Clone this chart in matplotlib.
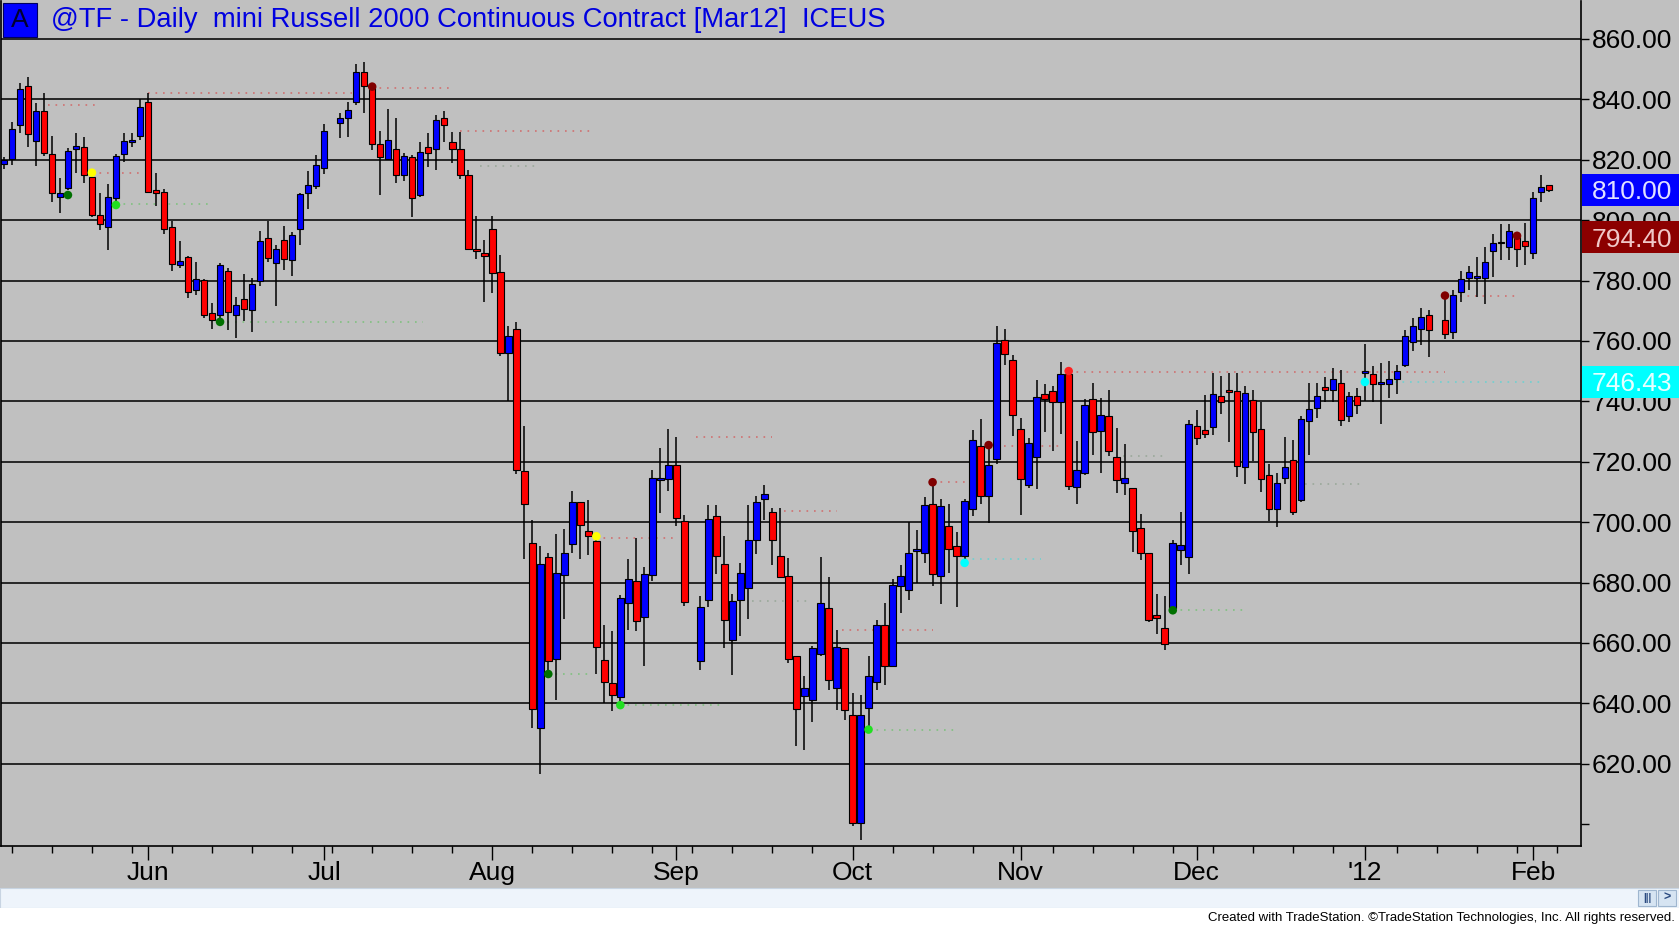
# plot.py : @TF daily candlestick chart (TradeStation look)

import matplotlib.pyplot as plt
import matplotlib.transforms as mtransforms
from matplotlib.patches import Rectangle
import numpy as np

plt.rcParams['font.family'] = ['Liberation Sans', 'DejaVu Sans']

nan = np.nan

# Daily OHLC, one entry per bar slot (nan = empty holiday slot)
opens = [
    818.5, 820.1, 831.5, 844.4, 826.2, 836.1, 821.9, 807.5, 810.5, 823.4,
    824.1, 814.2, 801.7, 797.6, 807.2, 821.8, 826.0, 827.9, 839.2, 810.0,
    809.2, 797.8, 785.1, 787.7, 776.9, 780.2, 769.4, 768.6, 783.2, 768.6,
    774.0, 770.2, 780.0, 794.0, 785.7, 793.4, 786.8, 797.0, 808.9, 811.3,
    817.2, nan, 832.1, 833.7, 839.0, 849.2, 844.2, 825.1, 820.1, 823.4,
    814.8, 820.8, 808.3, 824.3, 823.4, 833.7, 826.0, 823.4, 814.8, 790.3,
    789.1, 797.1, 782.9, 756.1, 763.9, 716.8, 693.2, 631.9, 688.4, 654.7,
    682.5, 692.8, 706.5, 696.9, 693.7, 654.3, 646.8, 642.2, 673.3, 680.4,
    668.6, 682.5, 713.9, 714.3, 718.9, 700.2, nan, 653.9, 674.2, 702.1,
    686.2, 661.1, 674.3, 678.2, 694.0, 707.7, 703.2, 688.7, 682.3, 655.6,
    642.3, 641.0, 656.4, 671.6, 645.1, 658.3, 636.2, 600.4, 638.5, 647.0,
    666.0, 652.5, 679.0, 677.6, 690.5, 689.8, 706.1, 682.0, 698.6, 692.0,
    688.7, 704.3, 725.1, 708.6, 720.8, 760.2, 753.6, 730.9, 712.2, 721.6,
    742.3, 743.3, 739.8, 749.2, 711.7, 716.3, 740.9, 730.2, 735.1, 721.6,
    713.0, 711.4, 698.2, 689.8, 669.2, 665.1, 671.4, 690.9, 688.3, 731.7,
    730.4, 731.6, 741.6, 743.5, 743.5, 718.4, 740.5, 730.9, 715.6, 704.3,
    714.5, 720.4, 707.4, 733.6, 737.7, 744.6, 743.8, 746.0, 735.2, 741.6,
    749.5, 749.0, 745.8, 745.8, 747.4, 752.1, 759.5, 764.1, 768.6, nan,
    766.8, 762.8, 776.1, 780.8, 780.8, 780.8, 789.9, 792.4, 791.1, 794.4,
    793.0, 789.1, 809.4, 811.7]

highs = [
    821.0, 832.6, 845.3, 847.5, 838.7, 842.0, 827.9, 813.8, 823.8, 829.0,
    827.4, 816.0, 808.9, 812.0, 821.9, 828.7, 828.7, 840.0, 842.0, 815.5,
    810.2, 799.8, 793.2, 788.1, 786.1, 780.4, 772.5, 785.7, 784.0, 774.7,
    782.2, 780.7, 796.5, 799.8, 791.8, 798.1, 796.2, 809.1, 816.4, 821.6,
    831.8, nan, 835.4, 839.2, 851.7, 852.5, 844.7, 829.6, 836.7, 833.7,
    822.3, 821.6, 825.7, 828.7, 834.8, 836.2, 829.3, 829.3, 816.6, 801.5,
    793.4, 801.5, 788.4, 764.8, 766.1, 731.9, 700.6, 692.0, 689.7, 695.9,
    697.8, 710.2, 706.5, 707.3, 695.3, 665.8, 663.8, 676.0, 687.8, 694.7,
    685.0, 717.3, 724.5, 730.7, 728.2, 702.4, nan, 675.4, 705.6, 705.6,
    695.3, 676.3, 686.5, 705.8, 708.5, 712.4, 704.7, 704.7, 688.1, 655.8,
    649.2, 658.9, 688.5, 681.8, 664.4, 658.3, 643.4, 642.8, 655.6, 667.7,
    673.2, 681.0, 685.9, 699.9, 697.3, 708.3, 712.4, 707.7, 706.1, 696.6,
    707.8, 730.6, 734.3, 724.3, 764.9, 764.1, 755.3, 734.6, 728.0, 747.0,
    745.7, 745.0, 753.0, 750.5, 726.9, 740.6, 745.9, 741.2, 743.9, 731.0,
    726.0, 711.4, 702.6, 689.8, 676.1, 675.5, 694.0, 703.4, 733.7, 737.0,
    742.0, 749.3, 748.4, 749.3, 749.3, 745.1, 743.6, 739.9, 719.3, 716.2,
    728.1, 727.2, 735.0, 746.0, 746.0, 748.0, 751.0, 750.2, 743.2, 744.3,
    759.0, 751.7, 752.8, 753.2, 752.1, 763.7, 767.5, 770.8, 770.3, nan,
    774.9, 776.7, 783.0, 784.7, 787.8, 791.1, 795.5, 798.8, 798.8, 795.5,
    799.2, 809.2, 815.0, 811.7]

lows = [
    817.0, 818.3, 828.7, 824.3, 817.9, 821.2, 806.1, 802.5, 810.0, 815.5,
    812.2, 801.1, 796.7, 790.1, 806.1, 819.4, 824.3, 826.5, 809.4, 804.7,
    795.4, 783.3, 784.0, 774.1, 775.2, 767.5, 764.0, 767.0, 763.5, 760.9,
    766.7, 763.1, 778.2, 786.2, 771.6, 783.5, 781.5, 791.8, 803.6, 810.2,
    815.3, nan, 827.1, 827.6, 838.1, 835.4, 823.2, 808.3, 819.9, 812.2,
    813.1, 801.1, 807.8, 817.7, 816.6, 825.7, 819.0, 813.5, 790.1, 787.2,
    772.9, 776.0, 754.9, 740.0, 715.8, 687.8, 631.9, 616.6, 649.3, 641.2,
    667.9, 689.7, 687.8, 689.0, 649.7, 640.2, 637.3, 640.0, 664.2, 663.9,
    652.2, 680.4, 703.1, 710.2, 698.6, 672.3, nan, 650.9, 672.0, 682.9,
    658.3, 649.5, 662.2, 667.9, 689.6, 700.8, 685.9, 681.5, 653.4, 625.8,
    624.5, 633.7, 655.7, 644.5, 637.8, 634.6, 599.3, 594.9, 632.5, 644.5,
    646.2, 652.3, 669.9, 674.2, 680.0, 686.5, 678.8, 673.0, 683.2, 671.9,
    686.5, 702.0, 706.1, 699.8, 719.2, 751.9, 728.4, 702.3, 711.4, 711.1,
    729.9, 723.6, 729.3, 710.6, 706.1, 715.5, 722.1, 716.1, 721.8, 709.7,
    709.1, 690.1, 687.6, 667.0, 662.9, 657.6, 670.8, 685.7, 682.7, 725.5,
    727.7, 729.0, 735.8, 726.4, 715.1, 712.7, 720.1, 710.1, 700.5, 698.3,
    712.7, 702.4, 706.8, 722.3, 734.4, 739.9, 739.9, 731.7, 733.0, 735.8,
    740.0, 739.9, 732.5, 741.0, 742.5, 751.5, 756.5, 758.7, 754.8, nan,
    760.6, 760.6, 772.8, 776.7, 774.7, 772.3, 781.1, 786.9, 786.7, 784.5,
    785.2, 787.1, 805.9, 809.2]

closes = [
    819.8, 830.1, 843.3, 828.5, 836.1, 822.1, 808.9, 808.9, 822.9, 824.5,
    814.8, 801.8, 798.7, 807.8, 821.2, 826.2, 826.4, 837.4, 809.4, 809.1,
    797.0, 785.5, 786.4, 776.2, 780.4, 768.6, 767.0, 785.1, 769.7, 771.9,
    770.7, 778.9, 793.1, 787.4, 790.3, 787.0, 795.1, 808.7, 811.6, 818.3,
    829.5, nan, 833.7, 836.5, 849.2, 844.4, 825.1, 820.8, 826.5, 814.8,
    821.2, 807.2, 822.7, 822.1, 833.2, 831.4, 823.4, 814.8, 790.3, 789.7,
    788.1, 782.6, 756.1, 761.5, 717.3, 706.1, 638.1, 686.0, 653.9, 683.2,
    689.7, 706.5, 699.0, 695.3, 658.6, 647.2, 642.7, 674.8, 681.2, 667.3,
    682.9, 714.5, 714.5, 718.9, 701.5, 673.5, nan, 672.0, 701.1, 688.7,
    667.7, 673.8, 683.2, 694.0, 706.6, 709.4, 694.0, 681.8, 654.7, 638.1,
    645.1, 658.3, 673.2, 647.8, 658.7, 637.9, 600.4, 636.2, 649.0, 666.0,
    652.3, 679.3, 682.3, 689.8, 690.7, 705.8, 682.9, 705.2, 691.1, 688.9,
    707.0, 727.1, 708.6, 718.8, 759.3, 755.6, 735.4, 714.3, 726.2, 741.5,
    740.8, 739.8, 749.2, 711.9, 717.4, 738.7, 729.9, 735.4, 723.6, 714.1,
    714.6, 697.1, 689.8, 667.7, 668.1, 659.8, 693.1, 692.3, 732.6, 728.0,
    729.1, 742.5, 739.9, 743.2, 718.6, 742.7, 729.7, 714.3, 704.3, 713.1,
    718.2, 703.5, 734.1, 737.4, 741.8, 743.6, 747.3, 733.9, 741.6, 738.8,
    749.6, 745.8, 745.9, 747.4, 750.1, 761.7, 765.0, 767.9, 763.7, nan,
    762.3, 775.3, 780.5, 782.8, 780.9, 786.1, 792.4, 792.3, 796.3, 790.4,
    791.3, 807.3, 810.9, 810.0]

# Month labels and the bar slot where each month starts
month_labels = ['Jun', 'Jul', 'Aug', 'Sep', 'Oct', 'Nov', 'Dec', "'12", 'Feb']
month_pos = [18, 40, 61, 84, 106, 127, 149, 170, 191]
week_pos = list(range(1, 167, 5)) + [170] + list(range(174, 197, 5))

# Indicator markers: (bar slot, price, colour)
dot_bars = [8, 11, 14, 27, 46, 68, 74, 77, 108, 116, 120, 123, 133, 146, 170, 180, 189]
dot_prices = [808.3, 815.7, 805.0, 766.3, 844.2, 649.7, 695.3, 639.4, 631.3,
              713.2, 686.5, 725.5, 750.0, 670.8, 746.4, 775.0, 794.8]
dot_colors = ['#007000', '#ffff00', '#20e020', '#007000', '#800000', '#007000',
              '#ffff00', '#20e020', '#20e020', '#800000', '#00ffff', '#800000',
              '#ff2020', '#007000', '#00ffff', '#800000', '#800000']

# Dotted level lines: start slot, end slot, price, kind
lvl_start = [5.5, 11, 18, 46, 57, 74, 86.5, 97.5, 104.7, 116, 123, 133, 180,
             14, 27, 59.5, 68, 77, 93.5, 108, 120, 139.8, 146, 162.5, 170]
lvl_end = [11.5, 17, 43.5, 56, 73.8, 84, 96, 104, 116, 120.5, 132, 180, 189,
           26, 52.4, 67, 73.6, 89.5, 101, 119, 129.5, 145.3, 155.4, 170, 192]
lvl_price = [838.0, 815.5, 842.0, 843.8, 829.5, 694.7, 728.3, 703.6, 664.4,
             713.2, 725.3, 749.8, 775.0,
             805.3, 766.3, 818.0, 649.7, 639.6, 673.8, 631.3, 687.9, 722.0,
             671.0, 712.7, 746.4]
lvl_kind = ['r'] * 13 + ['g', 'g', 'k', 'g', 'g', 'k', 'g', 'c', 'k', 'g', 'k', 'c']
lvl_colors = {'r': '#d07070', 'g': '#80c080', 'k': '#9aa89a', 'c': '#70d0d0'}

# Price boxes on the right axis
box_values = [810.00, 794.40, 746.43]
box_faces = ['#0000ff', '#8c0000', '#00ffff']
box_texts = ['#e0e0ff', '#f0c8c8', '#e6ffff']

W, H = 1679, 927
fig = plt.figure(figsize=(W / 100, H / 100), dpi=100)
fig.patch.set_facecolor('#c0c0c0')
ax = fig.add_axes([1 / W, 81 / H, 1580 / W, 845 / H])
ax.set_facecolor('#c0c0c0')

o = np.array(opens)
hi = np.array(highs)
lo = np.array(lows)
c = np.array(closes)
x = np.arange(len(o))
ok = ~np.isnan(o)
up = c >= o

# grid lines
ax.hlines(np.arange(620, 861, 20), -5, 200, colors='#1a1a1a', linewidth=1.3, zorder=1)

# level lines
for x0, x1, p, k in zip(lvl_start, lvl_end, lvl_price, lvl_kind):
    ax.hlines(p, x0, x1, colors=lvl_colors[k], linewidth=1.2,
              linestyles=(0, (1, 3.5)), zorder=1.5)

# wicks then bodies
ax.vlines(x[ok], lo[ok], hi[ok], colors='black', linewidth=1.1, zorder=2)
body_lo = np.minimum(o, c)
body_h = np.maximum(np.abs(c - o), 0.6)
cols = np.where(up, '#0000ff', '#ff0000')
ax.bar(x[ok], body_h[ok], bottom=body_lo[ok], width=0.82, color=cols[ok],
       edgecolor='black', linewidth=0.8, zorder=3)

ax.scatter(dot_bars, dot_prices, s=38, c=dot_colors, zorder=4, linewidths=0)

ax.set_xlim(-0.36, 196.99)
ax.set_ylim(592.75, 872.55)

# right price axis
ax.yaxis.tick_right()
yt = np.arange(600, 861, 20)
ax.set_yticks(yt)
ax.set_yticklabels([''] + ['%.2f' % v for v in yt[1:]])
ax.tick_params(axis='y', length=5.8, width=1, direction='out', pad=2.2,
               labelsize=19, colors='black')

# bottom date axis
ax.set_xticks(month_pos)
ax.set_xticklabels([])
ax.set_xticks(week_pos, minor=True)
ax.tick_params(axis='x', which='major', length=10, width=1, direction='out')
ax.tick_params(axis='x', which='minor', length=5, width=1, direction='out')
trans = mtransforms.blended_transform_factory(ax.transData, ax.transAxes)
for lab, pos in zip(month_labels, month_pos):
    ax.text(pos, -27 / 845, lab, transform=trans, ha='center', va='center',
            fontsize=19, color='black')

for s in ['left', 'bottom', 'right']:
    ax.spines[s].set_color('black')
    ax.spines[s].set_linewidth(1.2)
ax.spines['top'].set_visible(False)

# coloured last-value boxes (they sit over the axis labels, as on screen)
btrans = mtransforms.blended_transform_factory(fig.transFigure, ax.transData)
bh = 32 / 3.02
for v, fc, tc in zip(box_values, box_faces, box_texts):
    ax.add_patch(Rectangle((1582 / W, v - bh / 2), (W - 1582) / W, bh,
                           transform=btrans, facecolor=fc, edgecolor='none',
                           clip_on=False, zorder=6))
    ax.text(1592 / W, v, '%.2f' % v, transform=btrans, ha='left', va='center_baseline',
            fontsize=19, color=tc, zorder=7, clip_on=False)

# title and the "A" box
fig.patches.append(Rectangle((3 / W, 1 - 37 / H), 34 / W, 34 / H,
                             transform=fig.transFigure, facecolor='#0000ff',
                             edgecolor='#000060', linewidth=0.8))
fig.text(20 / W, 1 - 20 / H, 'A', ha='center', va='center', fontsize=19, color='#000030')
fig.text(51 / W, 1 - 20 / H, '@TF - Daily  mini Russell 2000 Continuous Contract [Mar12]  ICEUS',
         ha='left', va='center', fontsize=19.7, color='#0000e0')

# scroll bar and footer strip
fig.patches.append(Rectangle((0, 1 - 908 / H), 1, 20 / H, transform=fig.transFigure,
                             facecolor='#eef4fb', edgecolor='#c8d4e2', linewidth=0.8))
fig.patches.append(Rectangle((0, 0), 1, 19 / H, transform=fig.transFigure,
                             facecolor='white', edgecolor='none'))
for bx, glyph in [(1638, '|||'), (1658, '>')]:
    fig.patches.append(Rectangle((bx / W, 1 - 906 / H), 18 / W, 16 / H,
                                 transform=fig.transFigure, facecolor='#d6e4f2',
                                 edgecolor='#9fb6cf', linewidth=0.8))
    fig.text((bx + 9) / W, 1 - 898 / H, glyph, ha='center', va='center',
             fontsize=7 if glyph == '|||' else 9, color='#2a4a80', fontweight='bold')
fig.text(1675 / W, 1 - 918 / H,
         'Created with TradeStation. \u00a9TradeStation Technologies, Inc. All rights reserved.',
         ha='right', va='center', fontsize=9.5, color='black')

fig.savefig('out.png', dpi=100, facecolor=fig.get_facecolor())
